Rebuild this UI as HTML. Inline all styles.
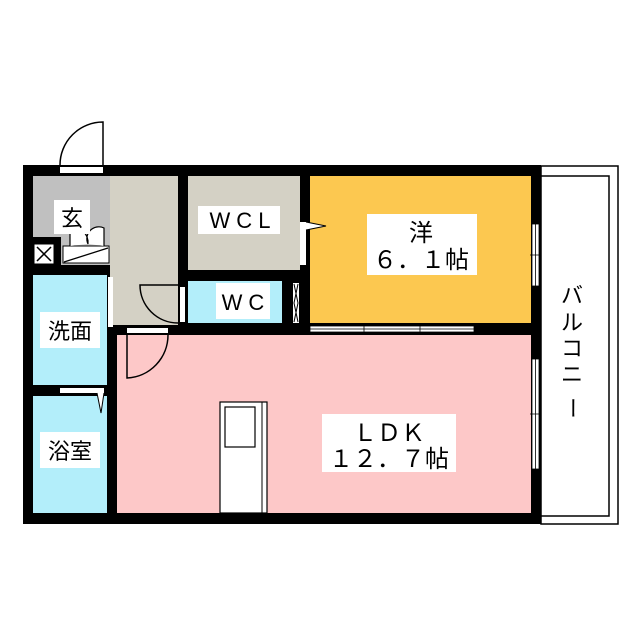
<!DOCTYPE html>
<html><head><meta charset="utf-8"><style>
html,body{margin:0;padding:0;background:#fff;width:640px;height:640px;overflow:hidden}
text{font-family:"Liberation Sans","Noto Sans CJK JP",sans-serif;font-size:22px;fill:#000}
.big{font-size:24px}
</style></head><body>
<svg width="640" height="640" viewBox="0 0 640 640" xmlns="http://www.w3.org/2000/svg">
<rect x="541" y="166" width="77" height="358" fill="#fff" stroke="#000" stroke-width="1.5"/>
<rect x="541" y="176" width="68" height="340" fill="#fff" stroke="#000" stroke-width="1.5"/>
<rect x="23" y="165" width="518" height="359" fill="#000"/>
<rect x="33" y="176" width="77" height="61" fill="#c0c0c0"/>
<rect x="61" y="237" width="49" height="28" fill="#c0c0c0"/>
<rect x="110" y="176" width="68" height="149" fill="#d4d1c5"/>
<rect x="188" y="176" width="112" height="94" fill="#d4d1c5"/>
<rect x="188" y="281" width="94" height="42" fill="#b3eefa"/>
<rect x="310" y="176" width="221" height="147" fill="#fcc850"/>
<rect x="117" y="335" width="414" height="178" fill="#fdc8c8"/>
<rect x="33" y="275" width="74" height="110" fill="#b3eefa"/>
<rect x="33" y="396" width="74" height="117" fill="#b3eefa"/>
<rect x="60" y="167" width="43" height="6" fill="#fff"/>
<path d="M103 165 V122 A43 43 0 0 0 60 165" fill="none" stroke="#000" stroke-width="1.5"/>
<rect x="35" y="245" width="18" height="18" fill="#fff" stroke="#fff"/>
<path d="M37 247 L51 261 M51 247 L37 261" stroke="#000" stroke-width="1.5"/>
<rect x="63" y="246" width="46" height="17" fill="#fff" stroke="#000"/>
<path d="M64 262 L108 248" stroke="#000" stroke-width="1.3"/>
<path d="M70 246 V228 A15 15 0 0 1 88 244 M88 244 A12 12 0 0 1 104 228 V246" fill="#fff" stroke="#000" stroke-width="1.2"/>
<rect x="108" y="277" width="5" height="50" fill="#fff"/>
<rect x="60" y="388" width="44" height="5" fill="#fff"/>
<path d="M97 393 L101 413 L104 393" fill="#fff" stroke="#000"/>
<rect x="127" y="328" width="41" height="5" fill="#fff"/>
<path d="M127 335 V378 A43 43 0 0 0 168 335" fill="none" stroke="#000" stroke-width="1.5"/>
<rect x="180" y="287" width="5" height="35" fill="#fff"/>
<path d="M178 323 A38 38 0 0 1 140 285 H178" fill="none" stroke="#000" stroke-width="1.5"/>
<rect x="293" y="283" width="6" height="40" fill="#fff"/>
<path d="M294 284 L298 303 L294 322 M298 284 L294 303 L298 322" stroke="#000" fill="none"/>
<rect x="300" y="222" width="6" height="43" fill="#fff"/>
<path d="M306 222 L326 226 L306 230" fill="#fff" stroke="#000"/>
<rect x="310" y="326" width="164" height="6" fill="#fff" stroke="#000" stroke-width="0.8"/>
<path d="M310 329 H474 M364 325 V333 M420 325 V333" stroke="#000" stroke-width="0.8"/>
<rect x="532" y="224" width="7" height="62" fill="#fff" stroke="#000" stroke-width="0.8"/>
<path d="M535.5 224 V286 M530 255 H541" stroke="#000" stroke-width="0.8"/>
<rect x="532" y="359" width="7" height="110" fill="#fff" stroke="#000" stroke-width="0.8"/>
<path d="M535.5 359 V469 M530 414 H541" stroke="#000" stroke-width="0.8"/>
<rect x="220" y="402" width="47" height="111" fill="#fff" stroke="#000" stroke-width="1.2"/>
<line x1="262" y1="402" x2="262" y2="513" stroke="#000"/>
<rect x="225" y="407" width="30" height="40" fill="#fff" stroke="#000" stroke-width="1.2"/>
<rect x="54" y="200" width="36" height="34" fill="#fff"/>
<text x="72" y="226" text-anchor="middle">玄</text>
<rect x="198" y="206" width="82" height="28" fill="#fff"/>
<text x="243" y="228" text-anchor="middle" letter-spacing="6">WCL</text>
<rect x="216" y="283" width="54" height="36" fill="#fff"/>
<text x="246" y="310" text-anchor="middle" letter-spacing="6">WC</text>
<rect x="40" y="312" width="60" height="36" fill="#fff"/>
<text x="70" y="339" text-anchor="middle">洗面</text>
<rect x="40" y="432" width="60" height="36" fill="#fff"/>
<text x="70" y="459" text-anchor="middle">浴室</text>
<rect x="367" y="214" width="110" height="61" fill="#fff"/>
<text class="big" x="421" y="241" text-anchor="middle">洋</text>
<text class="big" x="421" y="268" text-anchor="middle">６．１帖</text>
<rect x="322" y="414" width="134" height="58" fill="#fff"/>
<text class="big" x="389" y="441" text-anchor="middle">ＬＤＫ</text>
<text class="big" x="389" y="467" text-anchor="middle">１２．７帖</text>
<text x="572" y="303" text-anchor="middle">バ</text>
<text x="572" y="330" text-anchor="middle">ル</text>
<text x="572" y="356" text-anchor="middle">コ</text>
<text x="572" y="382" text-anchor="middle">ニ</text>
<text x="572" y="408" text-anchor="middle" style="writing-mode:tb">ー</text>
</svg>
</body></html>
